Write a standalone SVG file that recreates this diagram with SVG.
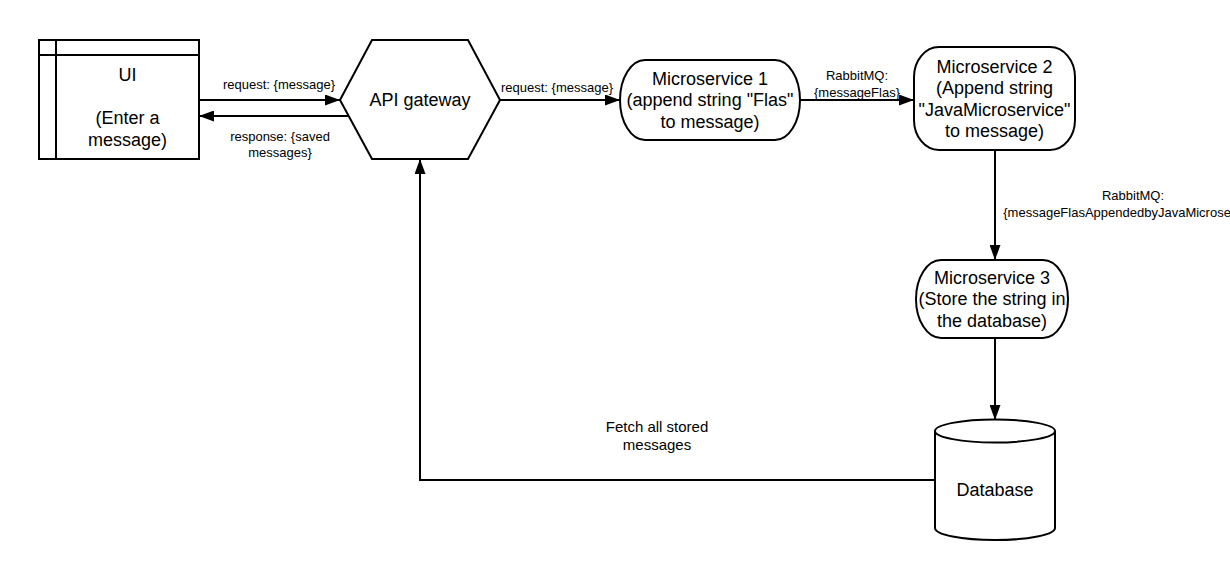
<svg xmlns="http://www.w3.org/2000/svg" width="1230" height="580" viewBox="0 0 1230 580">
<style>
.shape{fill:#fff;stroke:#000;stroke-width:2}
.line{fill:none;stroke:#000;stroke-width:2}
.t{font-family:"Liberation Sans",Arial,sans-serif;font-size:18px;fill:#000;text-anchor:middle}
.l{font-family:"Liberation Sans",Arial,sans-serif;font-size:13px;fill:#000;text-anchor:middle}
.f{font-family:"Liberation Sans",Arial,sans-serif;font-size:15px;fill:#000;text-anchor:middle}
</style>
<defs>
<marker id="arr" markerWidth="15" markerHeight="11" refX="15" refY="5.5" orient="auto" markerUnits="userSpaceOnUse">
<path d="M0,0 L15,5.5 L0,11 Z" fill="#000"/>
</marker>
</defs>
<rect width="1230" height="580" fill="#fff"/>
<g id="connectors">
<line class="line" x1="199" y1="100" x2="340" y2="100" marker-end="url(#arr)"/>
<line class="line" x1="348" y1="116" x2="199" y2="116" marker-end="url(#arr)"/>
<line class="line" x1="500" y1="100" x2="620" y2="100" marker-end="url(#arr)"/>
<line class="line" x1="800" y1="100" x2="914" y2="100" marker-end="url(#arr)"/>
<line class="line" x1="995" y1="150" x2="995" y2="260" marker-end="url(#arr)"/>
<line class="line" x1="995" y1="338" x2="995" y2="420" marker-end="url(#arr)"/>
<polyline class="line" points="935,480 420,480 420,159" marker-end="url(#arr)"/>
<text class="l" x="279" y="89">request: {message}</text>
<text class="l" x="280" y="141">response: {saved</text>
<text class="l" x="280" y="157">messages}</text>
<text class="l" x="557" y="91.5">request: {message}</text>
<text class="l" x="857" y="79.5">RabbitMQ:</text>
<text class="l" x="857" y="96.5">{messageFlas}</text>
<text class="l" x="1133" y="199.5">RabbitMQ:</text>
<text class="l" x="1133" y="216.5">{messageFlasAppendedbyJavaMicroservice}</text>
<text class="f" x="657" y="432">Fetch all stored</text>
<text class="f" x="657" y="450">messages</text>
</g>
<g id="ui">
<rect class="shape" x="39" y="40" width="160" height="119"/>
<line class="line" x1="56" y1="40" x2="56" y2="159"/>
<line class="line" x1="39" y1="55" x2="199" y2="55"/>
<text class="t" x="127.5" y="81.3">UI</text>
<text class="t" x="127.5" y="124.3">(Enter a</text>
<text class="t" x="127.5" y="145.8">message)</text>
</g>
<g id="api-gateway">
<polygon class="shape" points="340,100 372,40 468,40 500,100 468,159 372,159"/>
<text class="t" x="420" y="106.3">API gateway</text>
</g>
<g id="microservice-1">
<rect class="shape" x="620" y="60" width="180" height="80" rx="25" ry="40"/>
<text class="t" x="710" y="84.8">Microservice 1</text>
<text class="t" x="710" y="106.3">(append string "Flas"</text>
<text class="t" x="710" y="127.8">to message)</text>
</g>
<g id="microservice-2">
<rect class="shape" x="914" y="47" width="161" height="103" rx="25" ry="30"/>
<text class="t" x="994.5" y="72.5">Microservice 2</text>
<text class="t" x="994.5" y="94">(Append string</text>
<text class="t" x="994.5" y="115.5">"JavaMicroservice"</text>
<text class="t" x="994.5" y="137">to message)</text>
</g>
<g id="microservice-3">
<rect class="shape" x="916" y="260" width="152" height="78" rx="25" ry="39"/>
<text class="t" x="992" y="283.8">Microservice 3</text>
<text class="t" x="992" y="305.3">(Store the string in</text>
<text class="t" x="992" y="326.8">the database)</text>
</g>
<g id="database">
<path class="shape" d="M935,431 A60,11.5 0 0 1 1055,431 L1055,528 A60,12 0 0 1 935,528 Z"/>
<path class="line" d="M935,431 A60,11.5 0 0 0 1055,431"/>
<text class="t" x="995" y="496.3">Database</text>
</g>
</svg>
